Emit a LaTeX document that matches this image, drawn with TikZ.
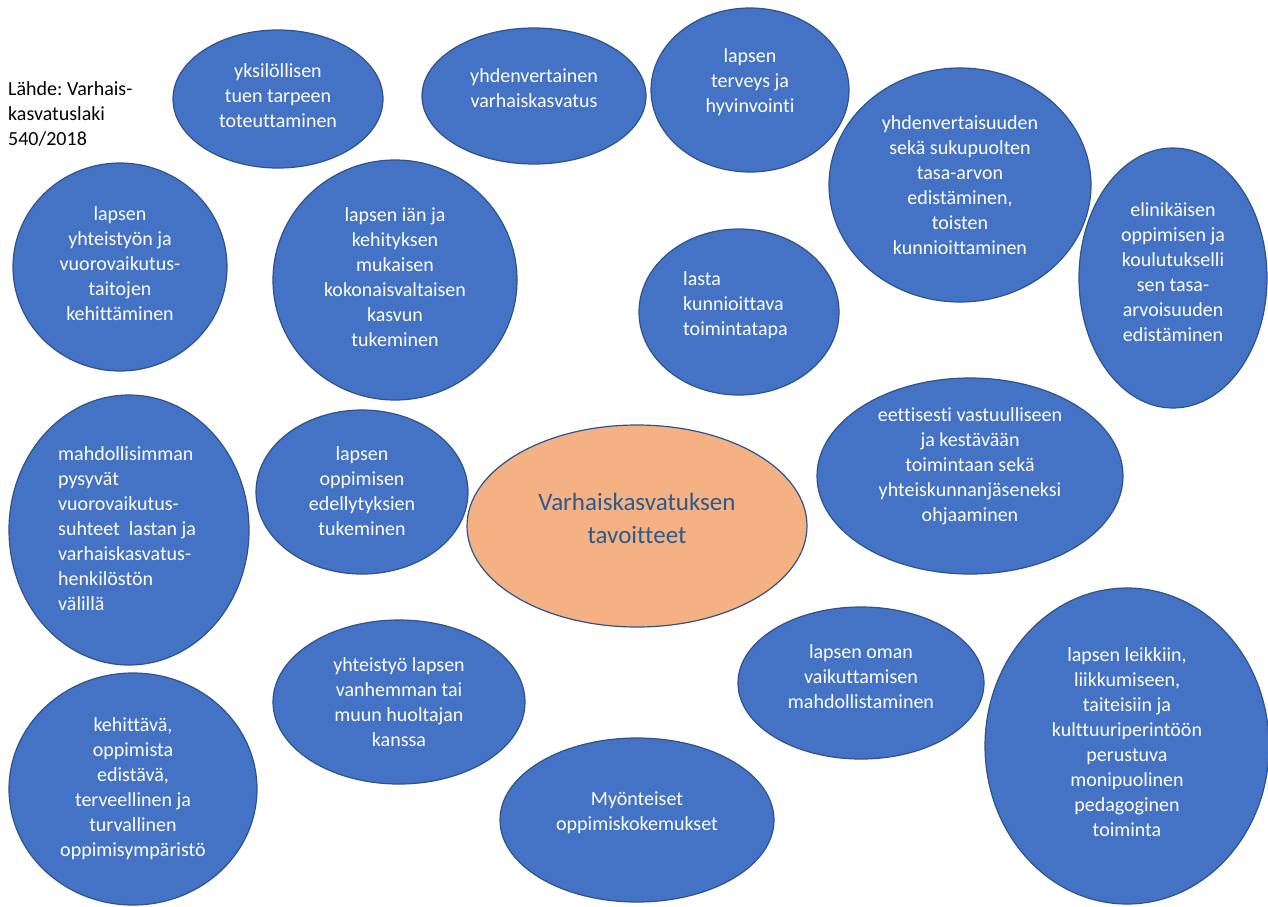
\documentclass[tikz,border=0pt]{standalone}
\usepackage{fontspec}
\setmainfont{Carlito}[Ligatures=NoCommon]
\frenchspacing
\usetikzlibrary{shapes.geometric}
\definecolor{bubblefill}{HTML}{4472C4}
\definecolor{bubbleline}{HTML}{2F528F}
\definecolor{corefill}{HTML}{F4B183}
\definecolor{coretext}{HTML}{2C5A8C}
\tikzset{
  bubble/.style={ellipse, draw=bubbleline, fill=bubblefill, line width=1.2pt, inner sep=0pt},
  core/.style={ellipse, draw=bubbleline, fill=corefill, line width=1.2pt, inner sep=0pt},
  btext/.style={text=white, align=center, inner sep=0pt, font=\fontsize{20}{25}\selectfont},
  ltext/.style={text=white, align=left, anchor=west, inner sep=0pt, font=\fontsize{20}{25}\selectfont},
  ctext/.style={text=coretext, align=center, inner sep=0pt, font=\fontsize{25}{33}\selectfont},
  srctext/.style={text=black, align=left, anchor=west, inner sep=0pt, font=\fontsize{20}{25}\selectfont},
}
\begin{document}
\begin{tikzpicture}[x=1pt, y=-1pt]
\useasboundingbox (0,0) rectangle (1268,906);

% source note
\node[srctext] (src) at (8,114) {Lähde: Varhais-\\kasvatuslaki\\540/2018};

% goal bubbles
\node[bubble, minimum width=210pt, minimum height=138pt] (b1) at (278,99) {};
\node[btext] (t1) at (278,96) {yksilöllisen\\tuen tarpeen\\toteuttaminen};

\node[bubble, minimum width=224pt, minimum height=136pt] (b2) at (534,96) {};
\node[btext] (t2) at (534,88) {yhdenvertainen\\varhaiskasvatus};

\node[bubble, minimum width=198pt, minimum height=164pt] (b3) at (750,90) {};
\node[btext] (t3) at (750,82) {lapsen\\terveys ja\\hyvinvointi};

\node[bubble, minimum width=262pt, minimum height=234pt] (b4) at (960,185) {};
\node[btext] (t4) at (960,185) {yhdenvertaisuuden\\sekä sukupuolten\\tasa-arvon\\edistäminen,\\toisten\\kunnioittaminen};

\node[bubble, minimum width=188pt, minimum height=260pt] (b5) at (1173,278) {};
\node[btext] (t5) at (1173,272) {elinikäisen\\oppimisen ja\\koulutukselli\\sen tasa-\\arvoisuuden\\edistäminen};

\node[bubble, minimum width=200pt, minimum height=166pt] (b6) at (739,312) {};
\node[ltext] (t6) at (683,305) {lasta\\kunnioittava\\toimintatapa};

\node[bubble, minimum width=214pt, minimum height=208pt] (b7) at (120,267) {};
\node[btext] (t7) at (120,264) {lapsen\\yhteistyön ja\\vuorovaikutus-\\taitojen\\kehittäminen};

\node[bubble, minimum width=244pt, minimum height=240pt] (b8) at (395,280) {};
\node[btext] (t8) at (395,277) {lapsen iän ja\\kehityksen\\mukaisen\\kokonaisvaltaisen\\kasvun\\tukeminen};

\node[bubble, minimum width=240pt, minimum height=270pt] (b9) at (129,530) {};
\node[ltext] (t9) at (58,529) {mahdollisimman\\pysyvät\\vuorovaikutus-\\suhteet~ lastan ja\\varhaiskasvatus-\\henkilöstön\\välillä};

\node[bubble, minimum width=212pt, minimum height=164pt] (b10) at (362,492) {};
\node[btext] (t10) at (362,491) {lapsen\\oppimisen\\edellytyksien\\tukeminen};

% central goal
\node[core, minimum width=340pt, minimum height=202pt] (core) at (637,526) {};
\node[ctext] (tc) at (637,518) {Varhaiskasvatuksen\\tavoitteet};

\node[bubble, minimum width=306pt, minimum height=196pt] (b12) at (970,476) {};
\node[btext] (t12) at (970,466) {eettisesti vastuulliseen\\ja kestävään\\toimintaan sekä\\yhteiskunnanjäseneksi\\ohjaaminen};

\node[bubble, minimum width=252pt, minimum height=164pt] (b13) at (399,702) {};
\node[btext] (t13) at (399,702) {yhteistyö lapsen\\vanhemman tai\\muun huoltajan\\kanssa};

\node[bubble, minimum width=248pt, minimum height=232pt] (b14) at (133,789) {};
\node[btext] (t14) at (133,789) {kehittävä,\\oppimista\\edistävä,\\terveellinen ja\\turvallinen\\oppimisympäristö};

\node[bubble, minimum width=274pt, minimum height=164pt] (b15) at (637,820) {};
\node[btext] (t15) at (637,813) {Myönteiset\\oppimiskokemukset};

\node[bubble, minimum width=246pt, minimum height=152pt] (b16) at (861,683) {};
\node[btext] (t16) at (861,677) {lapsen oman\\vaikuttamisen\\mahdollistaminen};

\node[bubble, minimum width=284pt, minimum height=316pt] (b17) at (1127,746) {};
\node[btext] (t17) at (1127,742) {lapsen leikkiin,\\liikkumiseen,\\taiteisiin ja\\kulttuuriperintöön\\perustuva\\monipuolinen\\pedagoginen\\toiminta};
\end{tikzpicture}
\end{document}
